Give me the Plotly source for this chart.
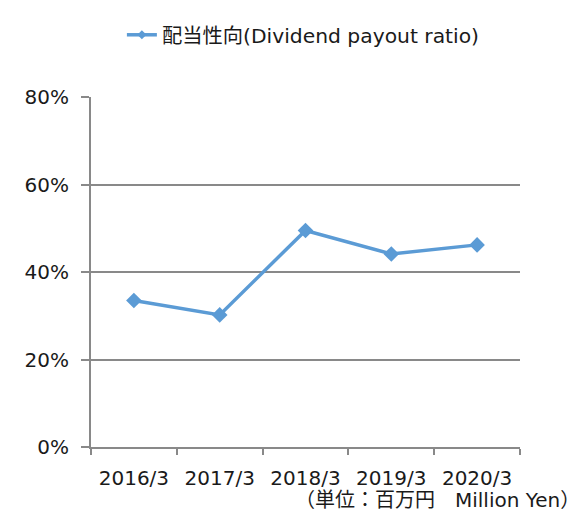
import plotly.graph_objects as go

# Dividend payout ratio by fiscal year end
years = ["2016/3", "2017/3", "2018/3", "2019/3", "2020/3"]
payout_ratio = [33.5, 30.2, 49.5, 44.1, 46.2]

LINE_COLOR = "#5B9BD5"
AXIS_COLOR = "#898989"
FONT = "DejaVu Sans, Noto Sans CJK JP, sans-serif"
SERIES_NAME = "配当性向(Dividend payout ratio)"

fig = go.Figure()

fig.add_trace(go.Scatter(
    x=years,
    y=[v / 100 for v in payout_ratio],
    mode="lines+markers",
    name=SERIES_NAME,
    showlegend=False,
    line=dict(color=LINE_COLOR, width=3.5),
    marker=dict(symbol="diamond", size=12, color=LINE_COLOR),
))

# legend entry only (smaller marker, like the original)
fig.add_trace(go.Scatter(
    x=[None], y=[None],
    mode="lines+markers",
    name=SERIES_NAME,
    line=dict(color=LINE_COLOR, width=3.5),
    marker=dict(symbol="diamond", size=7, color=LINE_COLOR),
))

fig.update_layout(
    width=579,
    height=511,
    paper_bgcolor="white",
    plot_bgcolor="white",
    font=dict(family=FONT, size=20, color="#1a1a1a"),
    margin=dict(l=83, r=67, t=89, b=72),
    showlegend=True,
    legend=dict(
        orientation="h",
        x=0.072, xanchor="left",
        y=0.947, yanchor="middle",
        yref="container",
        font=dict(size=20.3),
    ),
    xaxis=dict(
        type="category",
        showline=True,
        linecolor=AXIS_COLOR,
        linewidth=2,
        showgrid=False,
        ticks="outside",
        tickson="boundaries",
        ticklen=6,
        tickwidth=2,
        tickcolor=AXIS_COLOR,
        ticklabelstandoff=12,
        tickfont=dict(size=20),
        range=[-0.5, 4.5],
    ),
    yaxis=dict(
        range=[0, 0.8],
        tickvals=[0, 0.2, 0.4, 0.6, 0.8],
        tickformat=".0%",
        showline=True,
        linecolor=AXIS_COLOR,
        linewidth=2,
        showgrid=True,
        gridcolor=AXIS_COLOR,
        gridwidth=2,
        ticks="outside",
        ticklen=8,
        tickcolor=AXIS_COLOR,
        tickwidth=2,
        ticklabelstandoff=8,
        tickfont=dict(size=20),
        zeroline=False,
    ),
)

fig.add_annotation(
    text="（単位：百万円　Million Yen）",
    xref="paper", yref="paper",
    x=1.145, y=-0.152,
    xanchor="right", yanchor="middle",
    showarrow=False,
    font=dict(size=20),
)

fig.write_html("out.html")
